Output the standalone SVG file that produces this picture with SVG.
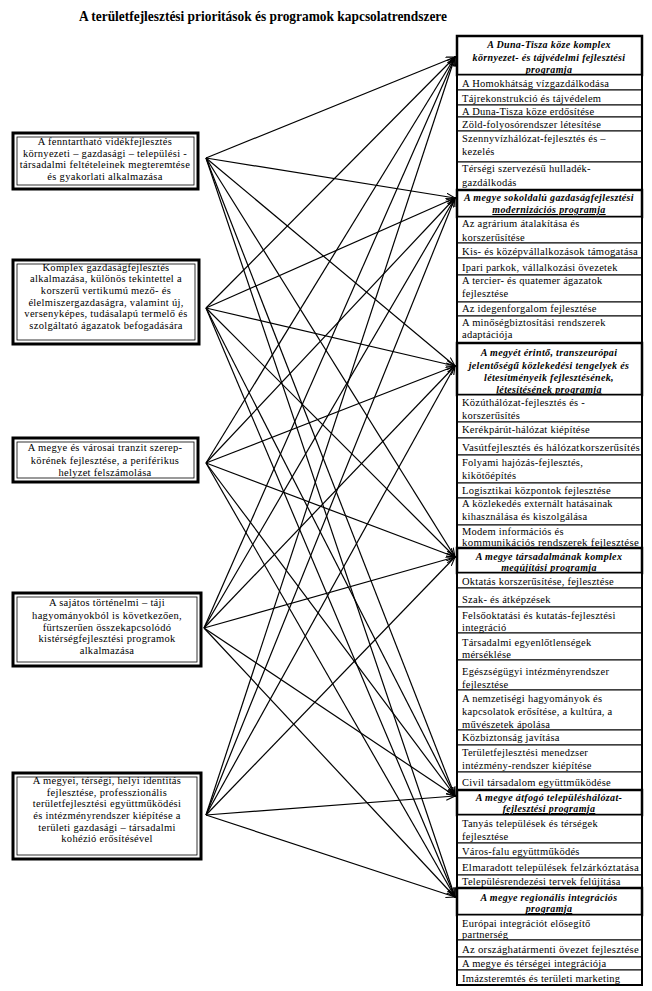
<svg xmlns="http://www.w3.org/2000/svg" width="652" height="991" viewBox="0 0 652 991">
<style>
text{font-family:"Liberation Serif","Times New Roman",serif;fill:#000}
.title{font-size:15.5px;font-weight:bold;text-anchor:middle}
.lt{font-size:10.5px;text-anchor:middle;letter-spacing:0.3px}
.ht{font-size:10px;font-weight:bold;font-style:italic;text-anchor:middle;letter-spacing:0.35px}
.u{text-decoration:underline}
.it{font-size:10.5px;letter-spacing:0.25px}
.outer{fill:#fff;stroke:#000;stroke-width:3}
.inner{fill:none;stroke:#000;stroke-width:0.8}
.hdr{fill:#fff;stroke:#000;stroke-width:2.5}
.item{fill:#fff;stroke:#000;stroke-width:1}
.col{fill:none;stroke:#000;stroke-width:2}
.con line{stroke:#000;stroke-width:1.2;marker-end:url(#arr)}
</style>
<defs>
<marker id="arr" markerUnits="userSpaceOnUse" markerWidth="10" markerHeight="8" refX="9" refY="4" orient="auto">
<path d="M0,0.5 L9,4 L0,7.5" fill="none" stroke="#000" stroke-width="1.1"/>
</marker>
</defs>
<rect width="652" height="991" fill="#fff"/>
<text class="title" x="263" y="21" textLength="368" lengthAdjust="spacingAndGlyphs">A területfejlesztési prioritások és programok kapcsolatrendszere</text>

<g id="connectors" class="con">
<line x1="206" y1="158" x2="455" y2="57"/>
<line x1="206" y1="158" x2="455" y2="198"/>
<line x1="206" y1="158" x2="455" y2="366"/>
<line x1="206" y1="158" x2="455" y2="557"/>
<line x1="206" y1="158" x2="455" y2="796"/>
<line x1="206" y1="158" x2="455" y2="897"/>
<line x1="206" y1="308" x2="455" y2="57"/>
<line x1="206" y1="308" x2="455" y2="198"/>
<line x1="206" y1="308" x2="455" y2="366"/>
<line x1="206" y1="308" x2="455" y2="557"/>
<line x1="206" y1="308" x2="455" y2="796"/>
<line x1="206" y1="308" x2="455" y2="897"/>
<line x1="206" y1="463" x2="455" y2="57"/>
<line x1="206" y1="463" x2="455" y2="198"/>
<line x1="206" y1="463" x2="455" y2="366"/>
<line x1="206" y1="463" x2="455" y2="557"/>
<line x1="206" y1="463" x2="455" y2="796"/>
<line x1="206" y1="463" x2="455" y2="897"/>
<line x1="204" y1="628" x2="455" y2="57"/>
<line x1="204" y1="628" x2="455" y2="198"/>
<line x1="204" y1="628" x2="455" y2="366"/>
<line x1="204" y1="628" x2="455" y2="557"/>
<line x1="204" y1="628" x2="455" y2="796"/>
<line x1="204" y1="628" x2="455" y2="897"/>
<line x1="206" y1="815" x2="455" y2="57"/>
<line x1="206" y1="815" x2="455" y2="198"/>
<line x1="206" y1="815" x2="455" y2="366"/>
<line x1="206" y1="815" x2="455" y2="557"/>
<line x1="206" y1="815" x2="455" y2="796"/>
<line x1="206" y1="815" x2="455" y2="897"/>
</g>

<g id="p1">
<rect class="outer" x="13" y="133" width="185" height="56"/>
<rect class="inner" x="17" y="137" width="177" height="48"/>
<text class="lt" x="105" y="144.5">A fenntartható vidékfejlesztés</text>
<text class="lt" x="105" y="156.5">környezeti – gazdasági – települési -</text>
<text class="lt" x="105" y="167.5">társadalmi feltételeinek megteremtése</text>
<text class="lt" x="105" y="179.5">és gyakorlati alkalmazása</text>
</g>
<g id="p2">
<rect class="outer" x="13" y="260" width="186" height="84"/>
<rect class="inner" x="17" y="264" width="178" height="76"/>
<text class="lt" x="106" y="270.5">Komplex gazdaságfejlesztés</text>
<text class="lt" x="106" y="281.5">alkalmazása, különös tekintettel a</text>
<text class="lt" x="106" y="293.5">korszerű vertikumú mező- és</text>
<text class="lt" x="106" y="305.5">élelmiszergazdaságra, valamint új,</text>
<text class="lt" x="106" y="316.5">versenyképes, tudásalapú termelő és</text>
<text class="lt" x="106" y="328.5">szolgáltató ágazatok befogadására</text>
</g>
<g id="p3">
<rect class="outer" x="13" y="438" width="185" height="44"/>
<rect class="inner" x="17" y="442" width="177" height="36"/>
<text class="lt" x="105" y="450.5">A megye és városai tranzit szerep-</text>
<text class="lt" x="105" y="463.5">körének fejlesztése, a periférikus</text>
<text class="lt" x="105" y="475.5">helyzet felszámolása</text>
</g>
<g id="p4">
<rect class="outer" x="13" y="593" width="188" height="73"/>
<rect class="inner" x="17" y="597" width="180" height="65"/>
<text class="lt" x="107" y="605.5">A sajátos történelmi – táji</text>
<text class="lt" x="107" y="618.5">hagyományokból is következően,</text>
<text class="lt" x="107" y="630.5">fürtszerűen összekapcsolódó</text>
<text class="lt" x="107" y="641.5">kistérségfejlesztési programok</text>
<text class="lt" x="107" y="653.5">alkalmazása</text>
</g>
<g id="p5">
<rect class="outer" x="13" y="773" width="188" height="86"/>
<rect class="inner" x="17" y="777" width="180" height="78"/>
<text class="lt" x="107" y="783.5">A megyei, térségi, helyi identitás</text>
<text class="lt" x="107" y="795.5">fejlesztése, professzionális</text>
<text class="lt" x="107" y="806.5">területfejlesztési együttműködési</text>
<text class="lt" x="107" y="818.5">és intézményrendszer kiépítése a</text>
<text class="lt" x="107" y="830.5">területi gazdasági – társadalmi</text>
<text class="lt" x="107" y="841.5">kohézió erősítésével</text>
</g>

<g id="prog1">
<rect class="hdr" x="457" y="36" width="185" height="39"/>
<text class="ht" x="549" y="48">A Duna-Tisza köze komplex</text>
<text class="ht" x="549" y="61">környezet- és tájvédelmi fejlesztési</text>
<text class="ht u" x="549" y="73">programja</text>
<rect class="item" x="457" y="75" width="185" height="15"/>
<text class="it" x="462" y="86.5">A Homokhátság vízgazdálkodása</text>
<rect class="item" x="457" y="90" width="185" height="15"/>
<text class="it" x="462" y="101.5">Tájrekonstrukció és tájvédelem</text>
<rect class="item" x="457" y="105" width="185" height="12"/>
<text class="it" x="462" y="114.5">A Duna-Tisza köze erdősítése</text>
<rect class="item" x="457" y="117" width="185" height="14"/>
<text class="it" x="462" y="127.5">Zöld-folyosórendszer létesítése</text>
<rect class="item" x="457" y="131" width="185" height="31"/>
<text class="it" x="462" y="141.5">Szennyvízhálózat-fejlesztés és –</text>
<text class="it" x="462" y="155">kezelés</text>
<rect class="item" x="457" y="162" width="185" height="28"/>
<text class="it" x="462" y="171.5">Térségi szervezésű hulladék-</text>
<text class="it" x="462" y="185.5">gazdálkodás</text>
</g>
<g id="prog2">
<rect class="hdr" x="457" y="190" width="185" height="27"/>
<text class="ht" x="549" y="200.5">A megye sokoldalú gazdaságfejlesztési</text>
<text class="ht u" x="549" y="213">modernizációs programja</text>
<rect class="item" x="457" y="217" width="185" height="26"/>
<text class="it" x="462" y="226.5">Az agrárium átalakítása és</text>
<text class="it" x="462" y="240.5">korszerűsítése</text>
<rect class="item" x="457" y="243" width="185" height="15"/>
<text class="it" x="462" y="254.5" textLength="176" lengthAdjust="spacingAndGlyphs">Kis- és középvállalkozások támogatása</text>
<rect class="item" x="457" y="258" width="185" height="17"/>
<text class="it" x="462" y="270.5">Ipari parkok, vállalkozási övezetek</text>
<rect class="item" x="457" y="275" width="185" height="27"/>
<text class="it" x="462" y="283.5">A tercier- és quatemer ágazatok</text>
<text class="it" x="462" y="296.5">fejlesztése</text>
<rect class="item" x="457" y="302" width="185" height="14"/>
<text class="it" x="462" y="311.5">Az idegenforgalom fejlesztése</text>
<rect class="item" x="457" y="316" width="185" height="27"/>
<text class="it" x="462" y="325.5">A minőségbiztosítási rendszerek</text>
<text class="it" x="462" y="337.5">adaptációja</text>
</g>
<g id="prog3">
<rect class="hdr" x="457" y="343" width="185" height="52"/>
<text class="ht" x="549" y="355.5">A megyét érintő, transzeurópai</text>
<text class="ht" x="549" y="368.5">jelentőségű közlekedési tengelyek és</text>
<text class="ht" x="549" y="381">létesítményeik fejlesztésének,</text>
<text class="ht u" x="549" y="392.5">létesítésének programja</text>
<rect class="item" x="457" y="395" width="185" height="27"/>
<text class="it" x="462" y="405.5">Közúthálózat-fejlesztés és -</text>
<text class="it" x="462" y="419">korszerűsítés</text>
<rect class="item" x="457" y="422" width="185" height="16"/>
<text class="it" x="462" y="433">Kerékpárút-hálózat kiépítése</text>
<rect class="item" x="457" y="438" width="185" height="17"/>
<text class="it" x="462" y="451" textLength="178" lengthAdjust="spacingAndGlyphs">Vasútfejlesztés és hálózatkorszerűsítés</text>
<rect class="item" x="457" y="455" width="185" height="28"/>
<text class="it" x="462" y="465.5">Folyami hajózás-fejlesztés,</text>
<text class="it" x="462" y="478.5">kikötőépítés</text>
<rect class="item" x="457" y="483" width="185" height="15"/>
<text class="it" x="462" y="493.5">Logisztikai központok fejlesztése</text>
<rect class="item" x="457" y="498" width="185" height="27"/>
<text class="it" x="462" y="506.5">A közlekedés externált hatásainak</text>
<text class="it" x="462" y="520">kihasználása és kiszolgálása</text>
<rect class="item" x="457" y="525" width="185" height="23"/>
<text class="it" x="462" y="534.5">Modem információs és</text>
<text class="it" x="462" y="546" textLength="177" lengthAdjust="spacingAndGlyphs">kommunikációs rendszerek fejlesztése</text>
</g>
<g id="prog4">
<rect class="hdr" x="457" y="548" width="185" height="25"/>
<text class="ht" x="549" y="560">A megye társadalmának komplex</text>
<text class="ht u" x="549" y="571">megújítási programja</text>
<rect class="item" x="457" y="573" width="185" height="15"/>
<text class="it" x="462" y="585">Oktatás korszerűsítése, fejlesztése</text>
<rect class="item" x="457" y="588" width="185" height="19"/>
<text class="it" x="462" y="603">Szak- és átképzések</text>
<rect class="item" x="457" y="607" width="185" height="26"/>
<text class="it" x="462" y="618.5">Felsőoktatási és kutatás-fejlesztési</text>
<text class="it" x="462" y="631">integráció</text>
<rect class="item" x="457" y="633" width="185" height="27"/>
<text class="it" x="462" y="645.5">Társadalmi egyenlőtlenségek</text>
<text class="it" x="462" y="658">mérséklése</text>
<rect class="item" x="457" y="660" width="185" height="30"/>
<text class="it" x="462" y="674.5">Egészségügyi intézményrendszer</text>
<text class="it" x="462" y="688">fejlesztése</text>
<rect class="item" x="457" y="690" width="185" height="40"/>
<text class="it" x="462" y="701.5">A nemzetiségi hagyományok és</text>
<text class="it" x="462" y="715">kapcsolatok erősítése, a kultúra, a</text>
<text class="it" x="462" y="728">művészetek ápolása</text>
<rect class="item" x="457" y="730" width="185" height="15"/>
<text class="it" x="462" y="741">Közbiztonság javítása</text>
<rect class="item" x="457" y="745" width="185" height="27"/>
<text class="it" x="462" y="755.5">Területfejlesztési menedzser</text>
<text class="it" x="462" y="768.5">intézmény-rendszer kiépítése</text>
<rect class="item" x="457" y="772" width="185" height="18"/>
<text class="it" x="462" y="786">Civil társadalom együttműködése</text>
</g>
<g id="prog5">
<rect class="hdr" x="457" y="790" width="185" height="25"/>
<text class="ht" x="549" y="800.5">A megye átfogó településhálózat-</text>
<text class="ht u" x="549" y="812">fejlesztési programja</text>
<rect class="item" x="457" y="815" width="185" height="28"/>
<text class="it" x="462" y="826.5">Tanyás települések és térségek</text>
<text class="it" x="462" y="839.5">fejlesztése</text>
<rect class="item" x="457" y="843" width="185" height="15"/>
<text class="it" x="462" y="854.5">Város-falu együttműködés</text>
<rect class="item" x="457" y="858" width="185" height="17"/>
<text class="it" x="462" y="870.5" textLength="177" lengthAdjust="spacingAndGlyphs">Elmaradott települések felzárkóztatása</text>
<rect class="item" x="457" y="875" width="185" height="13"/>
<text class="it" x="462" y="885">Településrendezési tervek felújítása</text>
</g>
<g id="prog6">
<rect class="hdr" x="457" y="888" width="185" height="27"/>
<text class="ht" x="549" y="900.5">A megye regionális integrációs</text>
<text class="ht u" x="549" y="912">programja</text>
<rect class="item" x="457" y="915" width="185" height="25"/>
<text class="it" x="462" y="926.5">Európai integrációt elősegítő</text>
<text class="it" x="462" y="938">partnerség</text>
<rect class="item" x="457" y="940" width="185" height="17"/>
<text class="it" x="462" y="953" textLength="177" lengthAdjust="spacingAndGlyphs">Az országhatármenti övezet fejlesztése</text>
<rect class="item" x="457" y="957" width="185" height="13"/>
<text class="it" x="462" y="966.5">A megye és térségei integrációja</text>
<rect class="item" x="457" y="970" width="185" height="15"/>
<text class="it" x="462" y="981.5">Imázsteremtés és területi marketing</text>
</g>
<rect class="col" x="457" y="36" width="185" height="949"/>
</svg>
